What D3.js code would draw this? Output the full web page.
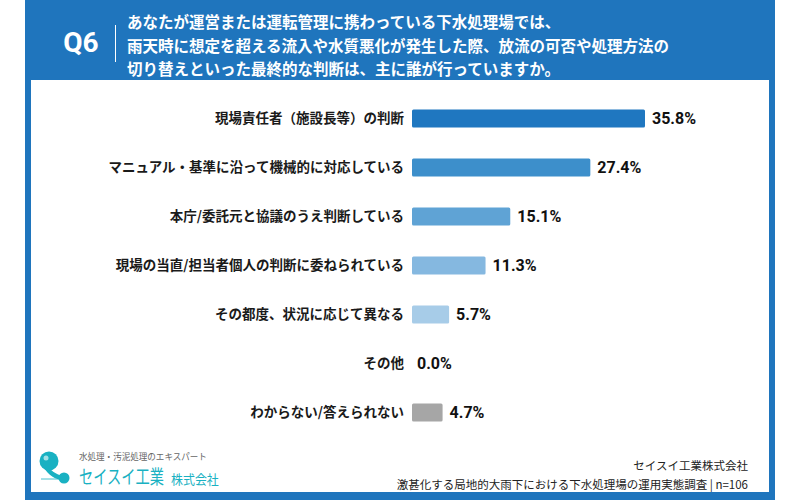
<!DOCTYPE html>
<html>
<head>
<meta charset="utf-8">
<script src="https://cdn.jsdelivr.net/npm/d3@7"></script>
<style>
  body { margin: 0; background: #fff; }
  svg { display: block; font-family: "Noto Sans CJK JP", "Noto Sans", sans-serif; }
</style>
</head>
<body>
<div id="chart"></div>
<script>
// data
var categories = [
    "現場責任者（施設長等）の判断",
    "マニュアル・基準に沿って機械的に対応している",
    "本庁/委託元と協議のうえ判断している",
    "現場の当直/担当者個人の判断に委ねられている",
    "その都度、状況に応じて異なる",
    "その他",
    "わからない/答えられない"
];
var values = [35.8, 27.4, 15.1, 11.3, 5.7, 0.0, 4.7];
var barColors = ["#1f77c0", "#3d8fcb", "#5fa3d5", "#85b8e0", "#a7cce8", "#a7cce8", "#a6a6a6"];
var questionLines = [
    "あなたが運営または運転管理に携わっている下水処理場では、",
    "雨天時に想定を超える流入や水質悪化が発生した際、放流の可否や処理方法の",
    "切り替えといった最終的な判断は、主に誰が行っていますか。"
];
var sourceLines = [
    "セイスイ工業株式会社",
    "激甚化する局地的大雨下における下水処理場の運用実態調査 | n=106"
];

function drawChart() {
    var w = 800;
    var h = 500;
    var blue = "#1f75bd";

    var svg = d3.select("#chart")
                .append("svg")
                .attr("width", w)
                .attr("height", h);

    // blue frame with white panel
    svg.append("rect").attr("x", 25).attr("y", 0).attr("width", 750).attr("height", 500).attr("fill", blue);
    svg.append("rect").attr("x", 31).attr("y", 80).attr("width", 738).attr("height", 412).attr("fill", "#fff");

    // header
    svg.append("text")
        .attr("x", 81).attr("y", 52)
        .attr("text-anchor", "middle")
        .attr("fill", "#fff")
        .attr("font-family", "Roboto, sans-serif")
        .attr("font-size", 28).attr("font-weight", "bold")
        .text("Q6");
    svg.append("line")
        .attr("x1", 115.5).attr("x2", 115.5)
        .attr("y1", 25).attr("y2", 62)
        .attr("stroke", "#fff").attr("stroke-width", 1);
    svg.selectAll(".q")
        .data(questionLines)
        .enter()
        .append("text")
        .attr("x", 127)
        .attr("y", (d, i) => 28 + i * 23.5)
        .attr("fill", "#fff")
        .attr("font-size", 15.5).attr("font-weight", "bold")
        .text(d => d);

    // bars
    var x = d3.scaleLinear().domain([0, 35.8]).range([412, 645]);
    var y = d3.scaleBand().domain(categories).range([94, 437]).paddingInner(0.63).paddingOuter(0.315);

    var g = svg.append("g");
    g.selectAll("rect.bar")
        .data(categories)
        .enter()
        .append("rect")
        .attr("class", "bar")
        .attr("x", x(0))
        .attr("y", d => y(d))
        .attr("width", (d, i) => x(values[i]) - x(0))
        .attr("height", y.bandwidth())
        .attr("rx", 1.5)
        .attr("fill", (d, i) => barColors[i]);

    g.selectAll("text.cat")
        .data(categories)
        .enter()
        .append("text")
        .attr("class", "cat")
        .attr("x", 404)
        .attr("y", d => y(d) + y.bandwidth() / 2)
        .attr("dy", "0.36em")
        .attr("text-anchor", "end")
        .attr("fill", "#1a1a1a")
        .attr("font-size", 13.5).attr("font-weight", "bold")
        .text(d => d);

    g.selectAll("text.val")
        .data(categories)
        .enter()
        .append("text")
        .attr("class", "val")
        .attr("x", (d, i) => x(values[i]) + (values[i] > 0 ? 7 : 5))
        .attr("y", d => y(d) + y.bandwidth() / 2)
        .attr("dy", "0.36em")
        .attr("fill", "#111")
        .attr("font-family", "Roboto, sans-serif")
        .attr("font-size", 16).attr("font-weight", "bold")
        .text((d, i) => values[i].toFixed(1) + "%");

    // footer source
    svg.selectAll(".src")
        .data(sourceLines)
        .enter()
        .append("text")
        .attr("x", 748)
        .attr("y", (d, i) => 470 + i * 19)
        .attr("text-anchor", "end")
        .attr("fill", "#222")
        .attr("font-size", 11.5)
        .text(d => d);

    // logo
    var teal = "#19b1c2";
    var logo = svg.append("g");
    logo.append("path")
        .attr("d", "M45,463 C51,471 55,474 63,476 L63,480 C55,480 49,475 43,467 Z")
        .attr("fill", teal);
    logo.append("circle").attr("cx", 49).attr("cy", 461).attr("r", 9.5).attr("fill", teal);
    logo.append("circle").attr("cx", 46).attr("cy", 458).attr("r", 2.5).attr("fill", "#fff").attr("opacity", 0.6);
    logo.append("circle").attr("cx", 64).attr("cy", 478).attr("r", 5.5).attr("fill", teal);
    logo.append("line").attr("x1", 41).attr("x2", 59).attr("y1", 479).attr("y2", 479)
        .attr("stroke", teal).attr("stroke-width", 0.8);
    // condensed logo type: squeeze horizontally with a transform
    logo.append("text")
        .attr("transform", "translate(79,460) scale(0.95,1)")
        .attr("fill", "#666").attr("font-size", 9)
        .text("水処理・汚泥処理のエキスパート");
    logo.append("text")
        .attr("transform", "translate(79,484) scale(0.75,1)")
        .attr("fill", teal).attr("font-size", 19)
        .text("セイスイ工業");
    logo.append("text")
        .attr("transform", "translate(171,484) scale(0.92,1)")
        .attr("fill", teal).attr("font-size", 13)
        .text("株式会社");
}

window.onload = drawChart;
</script>
</body>
</html>
